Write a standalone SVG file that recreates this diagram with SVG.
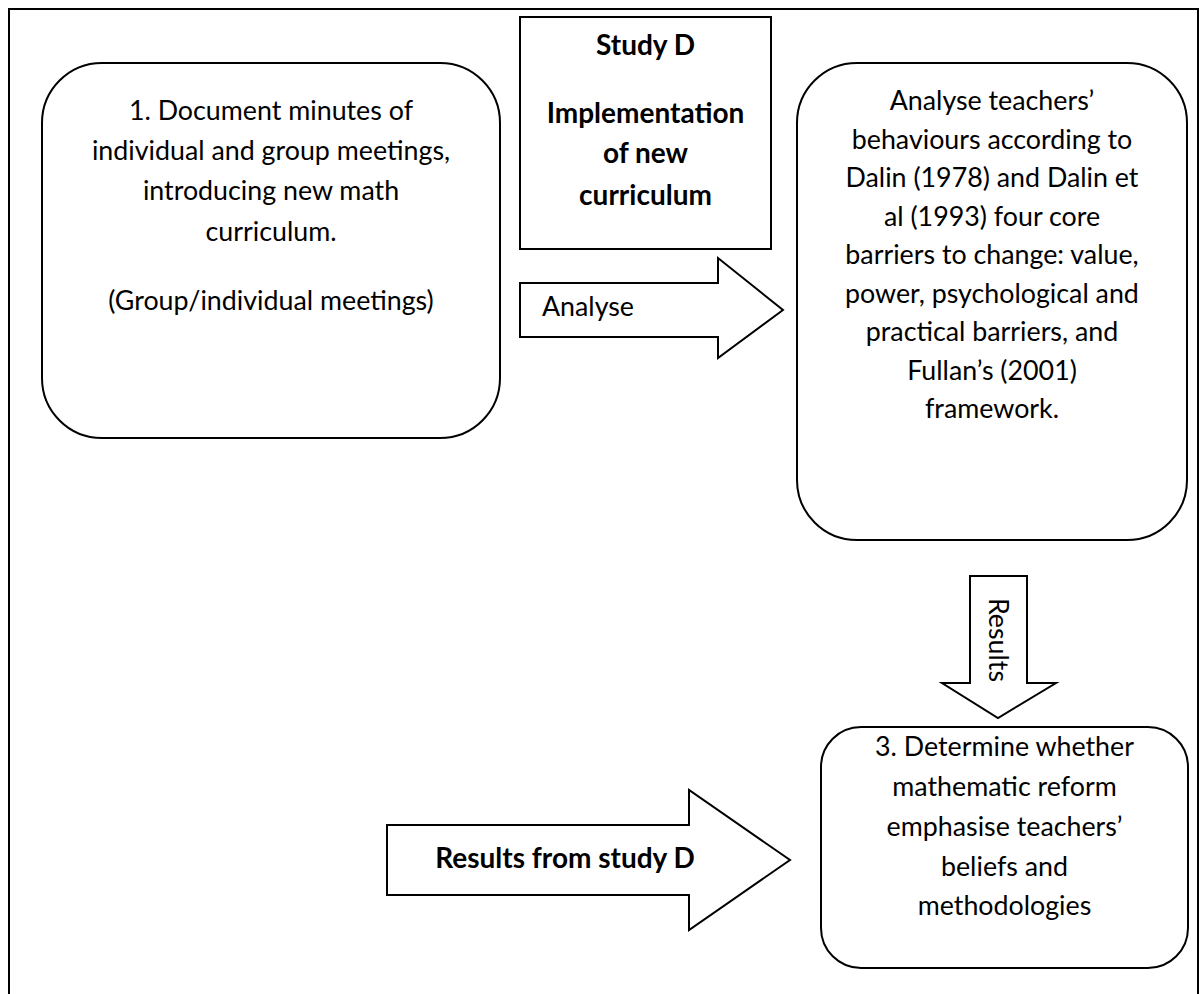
<svg xmlns="http://www.w3.org/2000/svg" width="1204" height="994" viewBox="0 0 1204 994">
<style>
.shape{fill:#fff;stroke:#000;stroke-width:2}
.frame{fill:none;stroke:#000;stroke-width:2}
text{font-family:Lato,"Open Sans","Liberation Sans",sans-serif;font-size:26.8px;fill:#000}
.c{text-anchor:middle}
.b{font-weight:bold;font-size:28px}
</style>
<rect width="1204" height="994" fill="#fff"/>
<path class="frame" d="M9,1000 V9 H1198 V1000"/>
<g id="study-d">
<rect class="shape" x="520" y="17" width="251" height="232"/>
<text class="c b" x="645.5" y="55">Study D</text>
<text class="c b" x="645.5" y="123">Implementation</text>
<text class="c b" x="645.5" y="163">of new</text>
<text class="c b" x="645.5" y="205">curriculum</text>
</g>
<g id="box1">
<rect class="shape" x="42" y="63" width="458" height="375" rx="60" ry="60"/>
<text class="c" x="271" y="120">1. Document minutes of</text>
<text class="c" x="271" y="160">individual and group meetings,</text>
<text class="c" x="271" y="200">introducing new math</text>
<text class="c" x="271" y="241">curriculum.</text>
<text class="c" x="271" y="310">(Group/individual meetings)</text>
</g>
<g id="box2">
<rect class="shape" x="797" y="63" width="390" height="477" rx="60" ry="60"/>
<text class="c" x="992" y="110">Analyse teachers’</text>
<text class="c" x="992" y="148.5">behaviours according to</text>
<text class="c" x="992" y="187">Dalin (1978) and Dalin et</text>
<text class="c" x="992" y="225.5">al (1993) four core</text>
<text class="c" x="992" y="264">barriers to change: value,</text>
<text class="c" x="992" y="302.5">power, psychological and</text>
<text class="c" x="992" y="341">practical barriers, and</text>
<text class="c" x="992" y="379.5">Fullan’s (2001)</text>
<text class="c" x="992" y="418">framework.</text>
</g>
<g id="box3">
<rect class="shape" x="821" y="727" width="367" height="241" rx="40" ry="40"/>
<text class="c" x="1004.5" y="756">3. Determine whether</text>
<text class="c" x="1004.5" y="796">mathematic reform</text>
<text class="c" x="1004.5" y="836">emphasise teachers’</text>
<text class="c" x="1004.5" y="876">beliefs and</text>
<text class="c" x="1004.5" y="915">methodologies</text>
</g>
<g id="connectors">
<g id="arrow-analyse">
<path class="shape" d="M520,283 H718 V258 L783,310 L718,358 V337 H520 Z"/>
<text x="542" y="316">Analyse</text>
</g>
<g id="arrow-results">
<path class="shape" d="M970,576 H1027 V683 H1056 L998,718 L942,683 H970 Z"/>
<text class="c" transform="translate(989,640) rotate(90)">Results</text>
</g>
<g id="arrow-results-study">
<path class="shape" d="M387,825 H689 V790 L790,860 L689,930 V895 H387 Z"/>
<text class="c b" x="565" y="868">Results from study D</text>
</g>
</g>
</svg>
